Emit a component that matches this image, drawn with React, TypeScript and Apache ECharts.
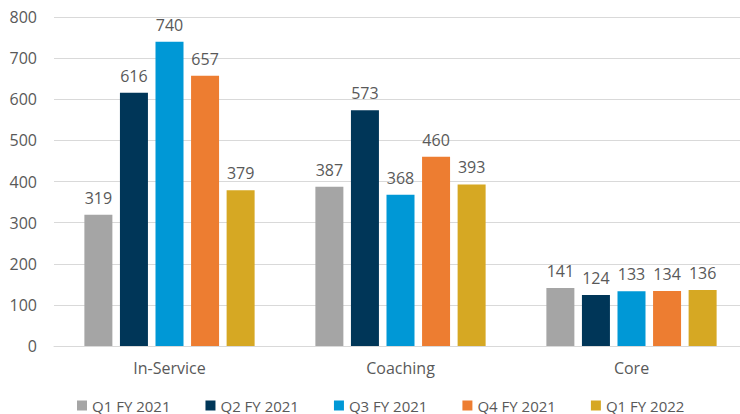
import React, { useEffect, useRef } from "react";
import * as echarts from "echarts";

const categories = ["In-Service", "Coaching", "Core"];
const seriesNames = ["Q1 FY 2021", "Q2 FY 2021", "Q3 FY 2021", "Q4 FY 2021", "Q1 FY 2022"];
const q1fy21 = [319, 387, 141];
const q2fy21 = [616, 573, 124];
const q3fy21 = [740, 368, 133];
const q4fy21 = [657, 460, 134];
const q1fy22 = [379, 393, 136];
const seriesValues = [q1fy21, q2fy21, q3fy21, q4fy21, q1fy22];
const colors = ["#A5A5A5", "#003658", "#0098D6", "#ED7D31", "#D6A823"];

const FONT = "'Open Sans', 'Noto Sans', sans-serif";
const TXT = "#595959";
const FS = 16;

export default function App() {
  const ref = useRef<HTMLDivElement>(null);
  useEffect(() => {
    if (!ref.current) return;
    const chart = echarts.init(ref.current, null, { renderer: "svg" });
    chart.setOption({
      animation: false,
      grid: {
        left: 54,
        width: 693,
        top: 17,
        height: 329,
        containLabel: false,
        outerBoundsMode: "none",
      },
      legend: {
        top: 398,
        left: 77,
        itemWidth: 10,
        itemHeight: 10,
        itemGap: 35,
        icon: "rect",
        textStyle: { color: TXT, fontSize: 15, fontFamily: FONT },
        padding: 0,
        data: seriesNames,
      },
      xAxis: {
        type: "category",
        data: categories,
        axisLine: { lineStyle: { color: "#D9D9D9", width: 1 } },
        axisTick: { show: false },
        axisLabel: { color: TXT, fontSize: FS, fontFamily: FONT, margin: 14 },
      },
      yAxis: {
        type: "value",
        min: 0,
        max: 800,
        interval: 100,
        axisLine: { show: false },
        axisTick: { show: false },
        splitLine: { lineStyle: { color: "#D9D9D9", width: 1 } },
        axisLabel: { color: TXT, fontSize: FS, fontFamily: FONT, margin: 17 },
      },
      series: seriesNames.map((name, i) => ({
        name,
        type: "bar",
        data: seriesValues[i],
        barWidth: 28,
        barGap: "27%",
        itemStyle: { color: colors[i] },
        label: {
          show: true,
          position: "top",
          distance: 9,
          color: TXT,
          fontSize: FS,
          fontFamily: FONT,
        },
      })),
    });
    return () => chart.dispose();
  }, []);
  return (
    <div
      ref={ref}
      style={{ width: 740, height: 414, position: "absolute", left: 0, top: 0 }}
    />
  );
}
